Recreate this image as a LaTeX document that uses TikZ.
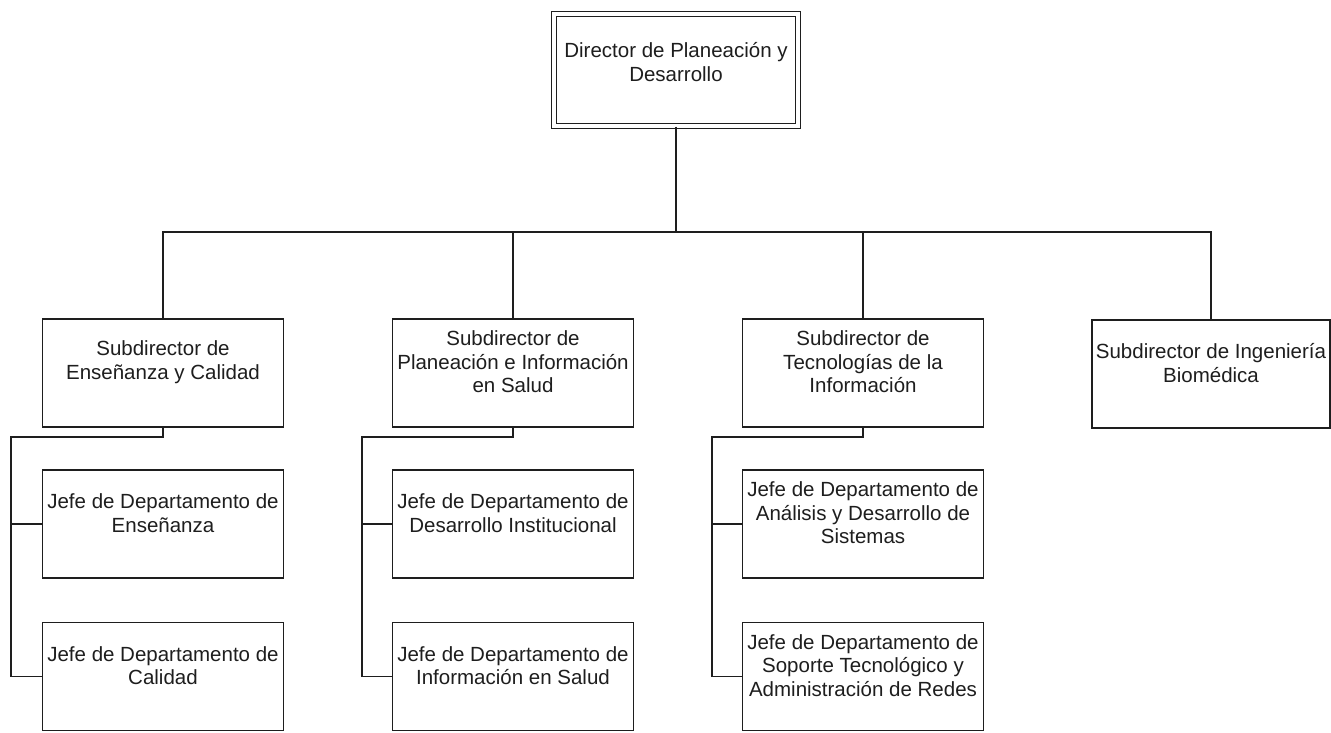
\documentclass[tikz,border=0pt]{standalone}
\usepackage{fontspec}
\setmainfont{Liberation Sans}
\usetikzlibrary{calc}
\definecolor{ink}{HTML}{1E1E1E}
\tikzset{
  unitbox/.style={draw=ink, line width=1.4pt, rectangle, inner sep=0pt,
                  minimum width=241pt, minimum height=108pt},
  headbox/.style={draw=ink, line width=1.2pt, double, double distance=3.8pt,
                  rectangle, inner sep=0pt, minimum width=244pt, minimum height=112pt},
  lbl/.style={text=ink, align=center, inner sep=0pt,
              font=\fontsize{20.5}{23.5}\selectfont},
  link/.style={draw=ink, line width=1.4pt}
}
\begin{document}
\begin{tikzpicture}[x=1pt,y=-1pt]
  % canvas
  \fill[white] (0,0) rectangle (1331,732);
  \useasboundingbox (0,0) rectangle (1331,732);

  % director
  \node[headbox] (dir) at (676,70) {};
  \node[lbl, yshift=8pt] (tdir) at (dir) {Director de Planeación y\\Desarrollo};

  % subdirectors
  \node[unitbox] (s1) at (163,373) {};
  \node[unitbox] (s2) at (513,373) {};
  \node[unitbox] (s3) at (863,373) {};
  \node[unitbox, minimum width=238pt] (s4) at (1211,374) {};
  \node[lbl, yshift=11pt] (ts1) at (s1) {Subdirector de\\Enseñanza y Calidad};
  \node[lbl, yshift=11pt] (ts2) at (s2) {Subdirector de\\Planeación e Información\\en Salud};
  \node[lbl, yshift=11pt] (ts3) at (s3) {Subdirector de\\Tecnologías de la\\Información};
  \node[lbl, yshift=11pt] (ts4) at (s4) {Subdirector de Ingeniería\\Biomédica};

  % department heads
  \node[unitbox] (j11) at (163,524) {};
  \node[unitbox] (j12) at (163,676.5) {};
  \node[unitbox] (j21) at (513,524) {};
  \node[unitbox] (j22) at (513,676.5) {};
  \node[unitbox] (j31) at (863,524) {};
  \node[unitbox] (j32) at (863,676.5) {};
  \node[lbl, yshift=11pt] (tj11) at (j11) {Jefe de Departamento de\\Enseñanza};
  \node[lbl, yshift=11pt] (tj12) at (j12) {Jefe de Departamento de\\Calidad};
  \node[lbl, yshift=11pt] (tj21) at (j21) {Jefe de Departamento de\\Desarrollo Institucional};
  \node[lbl, yshift=11pt] (tj22) at (j22) {Jefe de Departamento de\\Información en Salud};
  \node[lbl, yshift=11pt] (tj31) at (j31) {Jefe de Departamento de\\Análisis y Desarrollo de\\Sistemas};
  \node[lbl, yshift=11pt] (tj32) at (j32) {Jefe de Departamento de\\Soporte Tecnológico y\\Administración de Redes};

  % top-level bus
  \coordinate (bus) at (676,232);
  \draw[link] (dir.south) -- (bus);
  \draw[link] (s1.north) -- (s1.north |- bus) -- (s4.north |- bus) -- (s4.north);
  \draw[link] (s2.north) -- (s2.north |- bus);
  \draw[link] (s3.north) -- (s3.north |- bus);

  % side trunks to department heads
  \coordinate (k1) at (11,437);
  \coordinate (k2) at (362,437);
  \coordinate (k3) at (712,437);
  \draw[link] (s1.south) |- (k1) |- (j12.west);
  \draw[link] (k1 |- j11.west) -- (j11.west);
  \draw[link] (s2.south) |- (k2) |- (j22.west);
  \draw[link] (k2 |- j21.west) -- (j21.west);
  \draw[link] (s3.south) |- (k3) |- (j32.west);
  \draw[link] (k3 |- j31.west) -- (j31.west);
\end{tikzpicture}
\end{document}
